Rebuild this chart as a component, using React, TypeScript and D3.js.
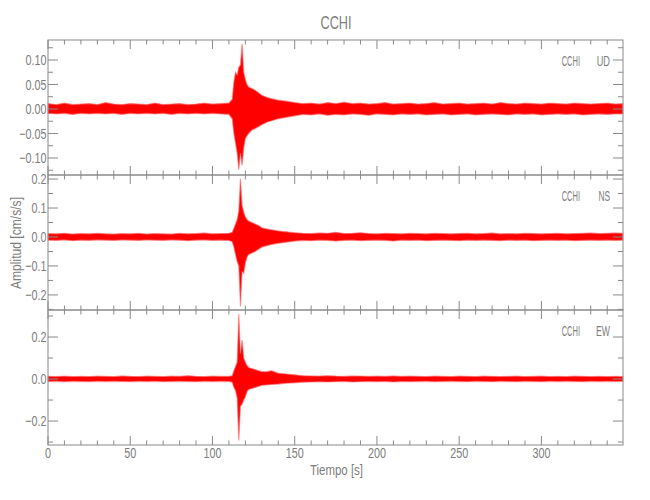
import React from "react";
import * as d3 from "d3";

// ---- data ----
const stationName = "CCHI";
const components = ["UD", "NS", "EW"];

const time = [
  0, 5, 10, 15, 20, 25, 30, 35, 40, 45, 50, 55, 60, 65, 70, 75, 80, 85, 90, 95, 100, 105, 110,
  112, 113, 114, 115, 116, 117, 118, 119, 120, 121, 122,
  124, 126, 128, 130, 133, 136, 140, 145,
  150, 155, 160, 165, 170, 175, 180, 185, 190, 195, 200, 205, 210, 215, 220, 225, 230, 235, 240, 245,
  250, 255, 260, 265, 270, 275, 280, 285, 290, 295, 300, 305, 310, 315, 320, 325, 330, 335, 340, 345,
  349.5,
];

const udUpper = [
  0.011, 0.009, 0.012, 0.009, 0.010, 0.011, 0.009, 0.013, 0.010, 0.009, 0.011, 0.010, 0.009, 0.012, 0.009, 0.010, 0.011, 0.009, 0.010, 0.012, 0.010, 0.011, 0.012,
  0.02, 0.055, 0.075, 0.07, 0.085, 0.09, 0.133, 0.075, 0.06, 0.05, 0.045,
  0.042, 0.038, 0.033, 0.028, 0.024, 0.021, 0.018, 0.016,
  0.013, 0.011, 0.012, 0.010, 0.013, 0.011, 0.014, 0.011, 0.012, 0.010, 0.011, 0.013, 0.010, 0.011, 0.012, 0.010, 0.011, 0.013, 0.010, 0.011,
  0.012, 0.010, 0.011, 0.012, 0.010, 0.013, 0.011, 0.010, 0.012, 0.011, 0.010, 0.012, 0.011, 0.010, 0.012, 0.011, 0.010, 0.011, 0.012, 0.010,
  0.011,
];
const udLower = [
  -0.009, -0.010, -0.009, -0.011, -0.009, -0.010, -0.009, -0.010, -0.009, -0.011, -0.009, -0.010, -0.009, -0.010, -0.009, -0.011, -0.009, -0.010, -0.009, -0.010, -0.009, -0.010, -0.011,
  -0.02, -0.05, -0.07, -0.09, -0.124, -0.09, -0.115, -0.08, -0.06, -0.055, -0.05,
  -0.043, -0.04, -0.036, -0.032, -0.027, -0.024, -0.02, -0.017,
  -0.014, -0.011, -0.012, -0.010, -0.013, -0.011, -0.012, -0.010, -0.011, -0.013, -0.010, -0.011, -0.012, -0.010, -0.011, -0.010, -0.012, -0.011, -0.010, -0.012,
  -0.011, -0.010, -0.012, -0.011, -0.010, -0.011, -0.012, -0.010, -0.011, -0.010, -0.012, -0.011, -0.010, -0.011, -0.010, -0.012, -0.011, -0.010, -0.011, -0.010,
  -0.010,
];

const nsUpper = [
  0.012, 0.011, 0.013, 0.010, 0.012, 0.011, 0.013, 0.011, 0.010, 0.012, 0.011, 0.013, 0.010, 0.012, 0.011, 0.010, 0.013, 0.011, 0.012, 0.014, 0.011, 0.012, 0.013,
  0.016, 0.03, 0.045, 0.06, 0.09, 0.202, 0.11, 0.085, 0.07, 0.06, 0.055,
  0.05, 0.045, 0.04, 0.032, 0.028, 0.025, 0.021, 0.018,
  0.015, 0.013, 0.012, 0.014, 0.013, 0.016, 0.012, 0.013, 0.015, 0.012, 0.011, 0.013, 0.012, 0.011, 0.013, 0.012, 0.011, 0.013, 0.012, 0.011,
  0.012, 0.013, 0.011, 0.012, 0.014, 0.011, 0.012, 0.011, 0.013, 0.012, 0.011, 0.012, 0.013, 0.011, 0.012, 0.013, 0.014, 0.012, 0.013, 0.014,
  0.013,
];
const nsLower = [
  -0.011, -0.012, -0.010, -0.013, -0.011, -0.012, -0.010, -0.011, -0.012, -0.010, -0.011, -0.012, -0.010, -0.011, -0.012, -0.010, -0.011, -0.013, -0.011, -0.010, -0.012, -0.011, -0.012,
  -0.016, -0.035, -0.06, -0.085, -0.1, -0.24, -0.12, -0.125, -0.09, -0.07, -0.06,
  -0.055, -0.05, -0.042, -0.035, -0.03, -0.026, -0.022, -0.018,
  -0.014, -0.012, -0.013, -0.011, -0.012, -0.014, -0.012, -0.011, -0.013, -0.012, -0.011, -0.012, -0.014, -0.011, -0.012, -0.011, -0.013, -0.012, -0.011, -0.012,
  -0.013, -0.011, -0.012, -0.011, -0.012, -0.013, -0.011, -0.012, -0.011, -0.013, -0.012, -0.011, -0.012, -0.011, -0.013, -0.012, -0.011, -0.012, -0.011, -0.012,
  -0.011,
];

const ewUpper = [
  0.013, 0.012, 0.014, 0.012, 0.013, 0.012, 0.014, 0.013, 0.012, 0.015, 0.013, 0.012, 0.014, 0.013, 0.012, 0.014, 0.013, 0.016, 0.013, 0.012, 0.014, 0.013, 0.013,
  0.016, 0.04, 0.06, 0.08, 0.31, 0.12, 0.186, 0.1, 0.08, 0.065, 0.055,
  0.05, 0.045, 0.04, 0.035, 0.035, 0.04, 0.028, 0.024,
  0.02, 0.016, 0.015, 0.014, 0.016, 0.014, 0.013, 0.015, 0.014, 0.013, 0.014, 0.013, 0.015, 0.013, 0.014, 0.013, 0.012, 0.014, 0.013, 0.012,
  0.014, 0.013, 0.012, 0.014, 0.013, 0.012, 0.013, 0.014, 0.012, 0.013, 0.014, 0.012, 0.013, 0.012, 0.014, 0.013, 0.012, 0.013, 0.012, 0.013,
  0.012,
];
const ewLower = [
  -0.012, -0.011, -0.013, -0.011, -0.012, -0.013, -0.011, -0.012, -0.011, -0.012, -0.013, -0.011, -0.012, -0.011, -0.013, -0.012, -0.011, -0.012, -0.013, -0.011, -0.012, -0.011, -0.012,
  -0.015, -0.04, -0.055, -0.09, -0.294, -0.13, -0.12, -0.1, -0.085, -0.06, -0.05,
  -0.045, -0.04, -0.035, -0.03, -0.028, -0.026, -0.024, -0.02,
  -0.018, -0.015, -0.014, -0.013, -0.014, -0.013, -0.012, -0.014, -0.013, -0.012, -0.013, -0.012, -0.014, -0.012, -0.013, -0.012, -0.011, -0.013, -0.012, -0.011,
  -0.012, -0.013, -0.011, -0.012, -0.013, -0.011, -0.012, -0.013, -0.011, -0.012, -0.013, -0.011, -0.012, -0.011, -0.012, -0.013, -0.011, -0.012, -0.011, -0.012,
  -0.011,
];

const xDomain = [0, 349.6];
const xMajorTicks = [0, 50, 100, 150, 200, 250, 300];

const panelDomains = [
  [-0.1347, 0.1408],
  [-0.252, 0.214],
  [-0.314, 0.3286],
];
const panelMajorTicks = [
  [-0.1, -0.05, 0, 0.05, 0.1],
  [-0.2, -0.1, 0, 0.1, 0.2],
  [-0.2, 0, 0.2],
];
const panelMinorTicks = [
  [-0.125, -0.075, -0.025, 0.025, 0.075, 0.125],
  [-0.25, -0.15, -0.05, 0.05, 0.15],
  [-0.3, -0.1, 0.1, 0.3],
];
const panelDecimals = [2, 1, 1];
const uppers = [udUpper, nsUpper, ewUpper];
const lowers = [udLower, nsLower, ewLower];

// ---- layout ----
const W = 650;
const H = 500;
const left = 48;
const right = 623;
const panelTops = [40, 175, 310];
const panelH = 135;
const axisColor = "#8a8a8a";
const textColor = "#7d7d7d";
const font = "'Liberation Sans', Arial, sans-serif";
const compLabelWidth: Record<string, number> = { UD: 13.3, NS: 11.6, EW: 14 };

function fmt(v: number, dec: number) {
  if (Math.abs(v) < 1e-9) return (0).toFixed(dec);
  const s = Math.abs(v).toFixed(dec);
  return v < 0 ? "\u2212" + s : s;
}

function Num(props: { x: number; y: number; anchor: string; children: React.ReactNode }) {
  return (
    <text
      transform={`translate(${props.x},${props.y}) scale(0.72,1)`}
      textAnchor={props.anchor}
      fontSize={15}
      fill={textColor}
    >
      {props.children}
    </text>
  );
}

export default function App() {
  const x = d3.scaleLinear().domain(xDomain).range([left, right]);
  const xMinor = d3.range(10, 350, 10).filter((t) => t % 50 !== 0);

  return (
    <svg
      width={W}
      height={H}
      style={{ position: "absolute", left: 0, top: 0, display: "block", background: "#fff" }}
      fontFamily={font}
    >
      <rect x={0} y={0} width={W} height={H} fill="#fff" />
      <text
        x={336}
        y={29}
        textAnchor="middle"
        fontSize={19}
        fill={textColor}
        textLength={31}
        lengthAdjust="spacingAndGlyphs"
      >
        {stationName}
      </text>

      {components.map((comp, i) => {
        const top = panelTops[i];
        const bottom = top + panelH;
        const y = d3.scaleLinear().domain(panelDomains[i]).range([bottom, top]);
        const area = d3
          .area<number>()
          .x((_, k) => x(time[k]))
          .y0((_, k) => y(lowers[i][k]))
          .y1((_, k) => y(uppers[i][k]));
        const d = area(time) || "";
        return (
          <g key={comp}>
            <path d={d} fill="#ff0000" stroke="#ff7070" strokeWidth={1.2} strokeOpacity={0.6} />
            <rect x={left} y={top} width={right - left} height={panelH} fill="none" stroke={axisColor} strokeWidth={1} />
            {xMajorTicks.map((t) => (
              <g key={"xm" + t}>
                <line x1={x(t)} x2={x(t)} y1={top} y2={top + 9} stroke={axisColor} />
                <line x1={x(t)} x2={x(t)} y1={bottom} y2={bottom - 9} stroke={axisColor} />
              </g>
            ))}
            {xMinor.map((t) => (
              <g key={"xn" + t}>
                <line x1={x(t)} x2={x(t)} y1={top} y2={top + 4.5} stroke={axisColor} />
                <line x1={x(t)} x2={x(t)} y1={bottom} y2={bottom - 4.5} stroke={axisColor} />
              </g>
            ))}
            {panelMajorTicks[i].map((v) => (
              <g key={"ym" + v}>
                <line x1={left} x2={left + 10} y1={y(v)} y2={y(v)} stroke={axisColor} />
                <line x1={right} x2={right - 10} y1={y(v)} y2={y(v)} stroke={axisColor} />
                <Num x={46.5} y={y(v) + 5.4} anchor="end">
                  {fmt(v, panelDecimals[i])}
                </Num>
              </g>
            ))}
            {panelMinorTicks[i].map((v) => (
              <g key={"yn" + v}>
                <line x1={left} x2={left + 5} y1={y(v)} y2={y(v)} stroke={axisColor} />
                <line x1={right} x2={right - 5} y1={y(v)} y2={y(v)} stroke={axisColor} />
              </g>
            ))}
            <text
              x={561.7}
              y={top + 25.7}
              fontSize={14}
              fill={textColor}
              textLength={18.3}
              lengthAdjust="spacingAndGlyphs"
            >
              {stationName}
            </text>
            <text
              x={610 - compLabelWidth[comp]}
              y={top + 25.7}
              fontSize={14}
              fill={textColor}
              textLength={compLabelWidth[comp]}
              lengthAdjust="spacingAndGlyphs"
            >
              {comp}
            </text>
          </g>
        );
      })}

      {xMajorTicks.map((t) => (
        <Num key={"xl" + t} x={x(t)} y={458.3} anchor="middle">
          {t}
        </Num>
      ))}
      <text
        x={310}
        y={475}
        fontSize={14}
        fill={textColor}
        textLength={53}
        lengthAdjust="spacingAndGlyphs"
      >
        Tiempo [s]
      </text>
      <text
        transform={`translate(21, 289) rotate(-90)`}
        fontSize={14}
        fill={textColor}
        textLength={92}
        lengthAdjust="spacingAndGlyphs"
      >
        Amplitud [cm/s/s]
      </text>
    </svg>
  );
}
